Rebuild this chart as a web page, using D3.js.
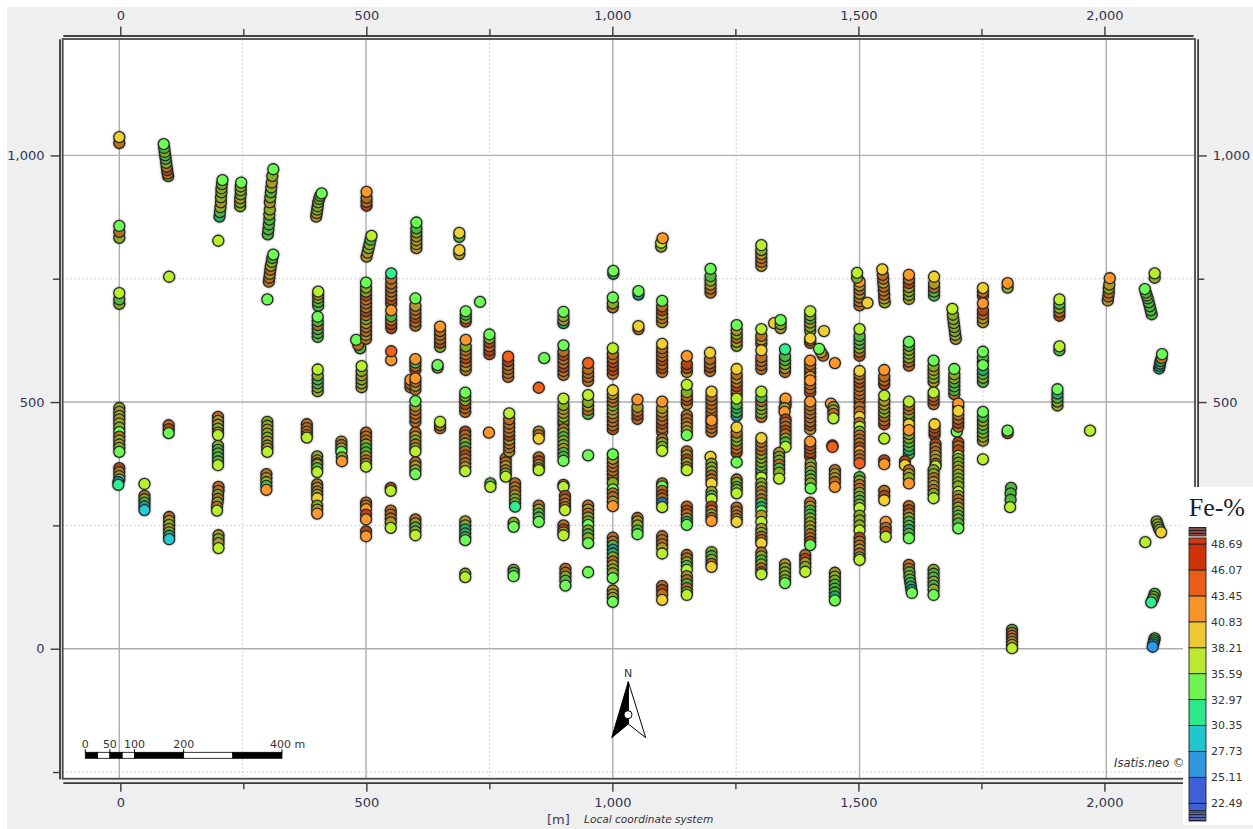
<!DOCTYPE html>
<html>
<head>
<meta charset="utf-8">
<title>Fe-% drill samples</title>
<script src="https://cdn.jsdelivr.net/npm/d3@7/dist/d3.min.js"></script>
<style>
  body { margin: 0; background: #fff; }
  svg { display: block; }
  .axis text { font-family: "DejaVu Sans", sans-serif; font-size: 13px; fill: #2f3550; }
  .axis path, .axis line { stroke: #3a3a3a; stroke-width: 1.4; }
  .note { font-family: "DejaVu Sans", sans-serif; fill: #333; }
</style>
</head>
<body>
<div class="chart"></div>
<script>
// DATA ------------------------------------
// each hole: [x (or one x per sample), sample elevations, sample Fe-%]
// listed in drawing order, so the last sample of a hole ends up on top
const holesWest = [
  [0, [1025,1037], [42,39.5]],
  [0, [833,845,857], [37,42,34]],
  [0, [699,708,721], [37,34,36.5]],
  [0, [488,480,472,465,457,448,439], [38,40,37,39,38,37,34]],
  [0, [430,422,414,407,399], [42,38,40,37,34]],
  [0, [366,358,350,343], [44,41,39,31]],
  [-2, [338,332], [30,31.5]],
  [[99,98,97,96,95,94,93,92,91,90], [958,963,970,977,985,993,1000,1007,1015,1023], [38,42,44,41,37,34,35,37,34,34]],
  [101, [754], [36.5]],
  [51, [334], [36.5]],
  [51, [310,303,296,289,281], [41,38,35,30,28.5]],
  [100, [453,445,437], [42,44,34]],
  [101, [267,259,251,243,236,229,222], [41,39,38,40,37,32,28.8]],
  [200, [470,462,454,446,438,433], [42,40,39,38,40,37]],
  [200, [411,403,396,388,380,372], [37,33,35,33,34,37]],
  [[201,201,200,200,199,198,198], [328,320,312,304,296,288,280], [41,43,38,41,37,42,37]],
  [201, [230,222,214,204], [39,37,40,36.5]],
  [[203,204,205,206,206,207,207,208,209], [876,885,895,905,915,925,933,942,950], [31,34,38,39,37,38,37,36,34]],
  [200.6, [827], [36.5]],
  [[245,245,245,246,246,246,247], [897,905,913,921,929,937,945], [37,38,39,37,38,36,34]],
  [[301,302,303,304,304,305,305,306,307,308,309,310,312], [840,850,860,870,880,890,905,915,925,935,945,958,972], [34,33,34,35,37,38,39,36,34,37,39,37,34]],
  [[303,304,305,306,307,309,310,312], [744,752,760,768,776,784,792,799], [42,41,39,42,40,37,34,34]],
  [300, [708], [34]],
  [[399,400,401,402,403,405,407,410], [876,883,890,897,905,912,918,923], [40,40,38,38,37,36,33,34]],
  [403, [695,703,711,718,724], [33,34,38,39,37]],
  [402, [632,640,648,656,664,673], [34,33,35,42,33,34]],
  [402, [522,530,538,546,554,566], [38,37,34,35,37,37]],
  [300, [460,452,444,436,428,420,412,406,399], [37,38,40,37,36,39,38,40,36.5]],
  [298, [354,346,338,330,322], [42,40,38,34,42]],
  [380, [455,447,440,433,428], [43,41,42,42,37]],
  [401, [390,382,376], [37,40,42]],
  [401, [373,366,358], [38,35,37]],
  [401, [333,326,319,312,305], [43,39,41,38,39.5]],
  [401, [290,282,274], [38,40,42]],
  [450, [420,413,406,399], [39,41,37,34]],
  [451, [388,380], [38,42]],
  [500, [438,430,422,414,406,398,390,382,375,369], [43,42,41,38,33,34,40,43,39,37]],
  [500, [296,290,283], [43,42,42]],
  [500, [272,262], [44,42]],
  [500, [238,228], [44,42]],
  [550, [326,320], [44,37]],
  [550, [280,272,264,256,245], [43,42,41,39,37]],
  [600, [438,430,422,414,406,400], [42,40,38,41,38,37]],
  [600, [378,370,362,354], [42,40,38,34]],
  [600, [262,254,246,238,230], [41,39,34,37,37]],
  [600, [655,663,671,679,687,695,710], [42,43,44,42,41,39,34]],
  [600, [565,573,580,587], [44,42,33,42]],
  [590, [530,537,545], [41,42,42]],
  [600, [525,533,541,548], [42,40,42,42]],
  [600, [460,468,476,484,492,502], [42,43,42,42,40,34]],
  [602, [812,820,828,836,844,852,864], [39,40,39,40,37,34,34]],
  [650, [447,453,460], [42,41,37]],
  [650, [612,620,628,636,644,653], [38,44,41,42,43,42]],
  [645, [570,575], [37,34]],
  [702, [663,670,677,684], [44,37,33,34]],
  [702, [565,573,581,589,597,605,613,626], [41,39,42,44,43,41,38,42]],
  [701, [480,488,496,504,512,519], [42,41,44,38,37,34]],
  [701, [440,432,424,416,408,400,392,384,376,368,360], [44,42,41,37,35,42,44,43,42,40,37]],
  [701, [258,250,242,234,226,220], [40,38,31,32,33,34]],
  [701, [152,145], [38,37]],
  [689, [835,843], [34,39.5]],
  [689, [800,808], [40,39.5]],
  [731, [703], [34]],
  [750, [597,605,613,621,629,637], [44,45,42,44,38,34]],
  [[501,503,505,507,509,511], [795,803,812,820,829,837], [40,39,38,37,35,36.5]],
  [[488,484,480], [609,616,626], [34,42,34]],
  [491, [530,538,546,554,563,573], [39.5,37,38,39,37,36.5]],
  [500, [628,636,644,652,660,668,676,684,692,700,708,716,724,732,742], [42,39.5,41,42,39.5,38,42,44,43,41,42,44,38,37,34]],
  [551, [700,708,716,724,732,740,750,761], [42,44,43,42,43,41,41,31.5]],
  [551, [650,658,666,674,686], [44,45,42,34,42]],
  [551, [585], [42]],
  [551, [603], [44.8]],
  [501, [898,906,914,926], [44,42,43,42]]
];

const holesCentre = [
  [788, [551,559,567,575,583,592], [42,43,41,42,44,44.7]],
  [861, [589], [34]],
  [850, [529], [44.8]],
  [900, [660,666,674,683], [31,39,36,34]],
  [900, [555,563,571,579,587,595,603,615], [42,43,45,43,41,44,42,34]],
  [900, [455,462,470,478,486,494,507], [40,38,36,39,40,38,36.5]],
  [900, [445,437,429,421,413,405,397,389,381], [42,37,35,38,36,39,34,33,34]],
  [900, [332,328], [42,37]],
  [903, [310,302,294,287,281], [44,42,43,42,37]],
  [900, [250,242,236,230], [42,44,39,37]],
  [904, [162,154,146,138,128], [41,42,37,34,34]],
  [850, [440,433,426], [39,42,39.5]],
  [850, [388,380,372,366,362], [42,44,40,39,37]],
  [850, [290,282,274,266,257], [42,38,34,33,34]],
  [799, [255,247], [38,34]],
  [799, [160,154,147], [37,33,34]],
  [802, [335,327,319,311,303,295,288], [43,42,41,39,38,36,31.5]],
  [783, [386,378,370,362,355,349], [43,42,39,42,38,37]],
  [790, [400,408,416,424,432,440,448,456,465,477], [39.5,42,43,39.5,44,42,43,42,42,36.5]],
  [749, [438], [42]],
  [752, [335,328], [33,37]],
  [950, [543,551,559,567,579], [42,41,43,42,44.8]],
  [950, [476,484,492,500,514], [34,42,40,38,36.5]],
  [950, [392], [34]],
  [950, [290,282,274,266,258,251], [43,40,41,38,37,33]],
  [950, [240,232,224,214], [37,33,38,34]],
  [950, [155], [34]],
  [1001, [760,766], [31,34]],
  [1000, [692,700,712], [42,38,34]],
  [1000, [557,565,573,581,589,597,609], [42,44,46,44,42,41,36.5]],
  [1000, [445,453,461,469,477,485,493,501,509,516,524], [44,42,41,43,40,39,38,42,41,39,39.5]],
  [1000, [345,353,361,369,377,385,394], [44,42,43,41,42,40,34]],
  [1000, [336,323], [38,34]],
  [1000, [315,307,298,289], [41,43,40,42]],
  [1000, [225,217,209,201,193,185,177,169,161,153,143], [41,42,34,29,31,36,42,40,38,36,34]],
  [1000, [118,110,103,95], [39.5,40,36,34]],
  [1052, [718,725], [29,34]],
  [1052, [648,654], [42,39.5]],
  [1050, [466,474,482,490,505], [42,44,41,39,42]],
  [1050, [265,258,250,240,232], [42,39,36,34,34]],
  [1098, [815,823], [37,38]],
  [1101, [832], [42]],
  [1100, [662,670,678,686,694,705], [39,42,40,44,42,34]],
  [1100, [561,569,577,585,593,601,609,618], [42,44,43,44,42,41,43,39.5]],
  [1100, [440,448,456,464,472,480,488,501], [42,41,44,43,41,39,39,42]],
  [1100, [425,417,409,401], [43,37,38,36.5]],
  [1100, [335,329], [42,34]],
  [1100, [320,312,304,296,287], [43,44,42,26,37]],
  [1100, [228,220,212,204,193], [42,43,41,39,37]],
  [1100, [127,119,110,99], [42,44,41,39.5]],
  [1150, [561,569,577,593], [40,44,45,42]],
  [1150, [496,504,512,520,535], [39,44,42,38,37]],
  [1150, [473,465,457,449,441,433], [42,43,41,40,39,34]],
  [1150, [400,392,384,376,368,362], [42,40,44,37,41,37]],
  [1150, [288,280,272,264,257,251], [42,44,43,39,31,34]],
  [1150, [190,183,175,168,160], [41,42,38,33,37]],
  [1150, [147,139,131,123,115,109], [40,43,34,42,38,37]],
  [1198, [722,730,738,746,755,770], [42,41,39,38,35,34]],
  [1197, [563,571,579,587,600], [43,44,42,41,39.5]],
  [1200, [440,448,456,464,472,480,488,496,504,512,521], [42,41,43,44,42,41,43,42,41,43,39.5]],
  [1200, [463], [42]],
  [1198, [389], [39.5]],
  [1200, [375,367,359,351,343,335], [38,37,36,42,41,39.5]],
  [1200, [318,310,303], [38,34,36.5]],
  [1200, [288,280,272,265,259], [44,42,38,42,42]],
  [1200, [196,188,180,172,166], [36,34,37,41,39.5]],
  [1251, [614,622,630,638,646,656], [38,39,42,37,39,34]],
  [1251, [516,524,532,540,548,556,567], [36,42,44,42,40,43,39.5]],
  [1251, [472,480,488,496,507], [29,33,32,34,36.5]],
  [1251, [398,406,414,422,430,438,449], [44,42,43,38,36,41,39.5]],
  [1251, [378], [33]],
  [1251, [343,336,328,322,315], [42,38,34,37,37]],
  [1251, [286,278,270,263,257], [43,41,42,40,39.5]],
  [1301, [776,784,792,800,808,818], [39,43,42,39,38,36.5]],
  [1301, [618,626,634,648], [42,39,41,37]],
  [1301, [567,575,583,591,605], [41,42,41,43,39.5]],
  [1301, [470,478,486,494,502,510,521], [41,38,36,38,41,34,36.5]],
  [1301, [355,363,371,379,387,395,403,411,419,427], [34,33,35,37,37,38,41,43,42,39.5]],
  [1301, [347], [36.5]],
  [1301, [335,327,319,311,303,295,287,279], [37,38,42,39,41,35,31,34]],
  [1301, [270,257], [40,36.5]],
  [1301, [243,235,227,220,214], [40,38,41,42,39.5]],
  [1301, [195,187,179,171,163,155,151], [42,38,34,36,42,40,37]]
];

const holesEast = [
  [1327, [660], [39.5]],
  [1340, [650,658,666], [39,37,34]],
  [1349, [561,569,577,585,593,607], [42,39,37,34,33,31.5]],
  [1350, [493,499,507], [42,43,42]],
  [1348, [488,480], [40,42]],
  [1350, [465,458,450,442,434,426,418,409], [44,42,43,45,41,38,34,36.5]],
  [1337, [397,389,381,373,365,357,345], [39,37,36,43,34,38,36.5]],
  [1349, [171,163,155,147,139,133], [39,38,37,36,36,34]],
  [1390, [190,182,174,166,156], [42,44,40,37,36.5]],
  [1400, [645,653,661,669,676,684], [38,37,39,34,37,36.5]],
  [1400, [620,625,629], [41,42,39.5]],
  [1428, [644], [39.5]],
  [[1426,1422,1418], [594,601,608], [42,39,34]],
  [1400, [560,568,576,584], [43,42,41,42]],
  [1400, [551], [42]],
  [1400, [520,528,536,544], [44,42,41,43]],
  [1400, [445,453,461,469,477,485,493,501], [40,44,42,41,43,42,41,42]],
  [1400, [390,398,406,412,420], [44,45,43,44,42]],
  [1401, [375,367,359,351,343,335,325], [37,39,36,34,38,37,34]],
  [1400, [296,288,280,272,264,256,248,240,232,224,217,210], [43,40,33,34,37,38,39,36,43,42,44,34]],
  [1450, [579], [42]],
  [1442, [497], [42]],
  [1447, [490,483,476,467], [38,39,42,36.5]],
  [1445, [412,409], [45,44.8]],
  [1450, [362,354,346,338,328], [43,40,39,41,42]],
  [1450, [154,146,138,130,122,114,106,98], [40,37,36,34,35,33,32,34]],
  [1500, [696,704,712,720,728,736,744], [43,42,41,40,42,40,42]],
  [1495, [752,762], [37,36.5]],
  [1516, [701], [39.5]],
  [1500, [594,602,610,618,626,634,648], [44,42,38,35,33,34,37]],
  [1500, [500,508,516,524,532,540,548,556,563], [44,43,41,43,42,44,42,41,39.5]],
  [1500, [490,480,470], [41,43,39.5]],
  [1500, [458,450], [41,36.5]],
  [1500, [440,432,424,416,408,400], [38,41,42,43,44,42]],
  [1500, [392,384,376], [41,42,44.8]],
  [1500, [348,340,332,324,316,308,300,292,285], [34,38,43,41,36,38,34,37,36.5]],
  [1500, [270,260,250,240], [38,36,37,36.5]],
  [1500, [225,217,209,201,193,185,180], [44,43,42,39,41,38,36.5]],
  [[1551,1550,1550,1549,1549,1548,1548,1547,1546], [702,710,718,726,734,742,750,758,769], [38,40,42,41,43,40,42,41,39.5]],
  [1550, [536,544,552,565], [44,42,41,42]],
  [1550, [455,463,471,479,487,495,503,513], [44,43,42,38,36,39,40,36.5]],
  [1550, [426], [36.5]],
  [1550, [382,374], [45,42]],
  [1550, [320,310,301], [42,44,39.5]],
  [1553, [257], [42]],
  [1553, [245,237,227], [43,44,36.5]],
  [1600, [709,717,725,733,741,749,758], [39,37,38,40,44,42,42]],
  [1600, [574,582,590,598,606,614,622], [41,42,38,37,38,35,34]],
  [1600, [445,453,461,469,477,485,493,501], [44,42,39,34,38,41,43,36.5]],
  [1600, [455], [39.5]],
  [1600, [395,403,411,419,427,435,443], [33,31,34,35,37,38,42]],
  [1592, [380,372], [44,39.5]],
  [1600, [362,354,346,335], [41,39,38,42]],
  [1600, [289,281,273,265,257,249,241,233,224], [42,44,41,37,33,34,32,33,34]],
  [[1600,1600,1601,1601,1602,1603,1604,1605,1606], [170,162,155,147,140,133,126,119,113], [43,41,34,36,34,33,31,30,34]],
  [1651, [716,724,732,740,754], [33,35,42,40,39.5]],
  [1650, [541,549,557,565,573,584], [39,38,37,39,37,34]],
  [1650, [496,504,512,519], [43,45,42,36.5]],
  [1652, [433,440,448,455], [46,44,45,39.5]],
  [1654, [415,407,399,391,383,375,370], [44,42,43,40,39,41,36.5]],
  [1650, [362,354,346,338,330,322,314,305], [37,38,42,39,40,43,38,36.5]],
  [1650, [160,152,144,136,128,120,109], [36,34,33,38,34,37,34]],
  [[1695,1694,1693,1692,1691,1690,1689,1688], [628,636,644,652,660,668,677,689], [39,37,38,36,37,36,38,36.5]],
  [1692, [516,524,532,540,548,556,567], [42,34,35,33,36,37,34]],
  [1697, [440], [34]],
  [1700, [490,497], [41,42]],
  [1700, [450,458,466,474,482], [43,44,42,41,39.5]],
  [1700, [418,410,402,391], [44,43,44,36.5]],
  [1700, [385,377,369,361,353,345,337,329,318], [38,36,37,39,36,37,38,37,36.5]],
  [1700, [310,302,294,286,278,270,262,254,244], [40,42,41,38,37,35,36,33,34]],
  [1750, [715,723,731], [44,42,39.5]],
  [1750, [662,670,678,686,700], [39,40,42,44,42]],
  [1750, [582,590,602], [33,34,34]],
  [1750, [541,549,557,565,575], [33,38,33,32,34]],
  [1750, [422,430,438,446,454,462,470,480], [40,38,36,33,38,36,34,34]],
  [1750, [384], [36.5]],
  [1800, [732,741], [38,42]],
  [1800, [437,442], [44,34]],
  [1905, [675,683,691,699,708], [44,42,38,34,36.5]],
  [1905, [605,613], [34,36.5]],
  [1901, [493,501,509,517,526], [38,37,33,31,34]],
  [1967, [442], [36.5]],
  [[2003,2004,2005,2005,2006,2007], [706,714,722,730,738,751], [40,42,41,38,39,42]],
  [[2092,2090,2088,2086,2084,2082,2080,2078], [678,686,694,702,710,716,722,729], [34,33,34,35,34,36,34,34]],
  [2098, [752,761], [37,36.5]],
  [[2107,2108,2109,2110,2112,2113], [568,573,578,583,589,597], [31,30,31,32,42,34]],
  [[2102,2104,2106,2108,2111], [258,252,246,241,236], [36,37,38,37,39.5]],
  [2079, [216], [36.5]],
  [[2098,2096,2094,2091], [111,105,100,94], [34,38,34,31.5]],
  [[2098,2097,2096,2095,2094], [21,17,13,9,4], [34,33,31,29,26.4]],
  [1809, [38,32,26,20,14,8,1], [34,42,42,41,40,39,36.5]],
  [[1807,1806,1806,1805], [326,315,302,287], [33,33,34,36.5]]
];

const xMajor = [0, 500, 1000, 1500, 2000];
const xMinor = [250, 750, 1250, 1750];
const yMajor = [0, 500, 1000];
const yMinor = [-250, 250, 750];
// the legend panel covers the lower part of the right axis
const yMajorRight = [500, 1000];
const yMinorRight = [750];

const legendCuts = [22.49, 25.11, 27.73, 30.35, 32.97, 35.59, 38.21, 40.83, 43.45, 46.07, 48.69];
const legendColors = ["#3f5fd6", "#3f60d8", "#3296e0", "#22c6cc", "#2de88a", "#70f550", "#bce832", "#ecc832", "#f59428", "#ea5f18", "#cf3208", "#cf3a12"];
const markColors = ["#3f5fd6", "#3f60d8", "#2f98ea", "#22ccd2", "#2cf090", "#6cfd55", "#b9f02c", "#f0d030", "#ff9828", "#f2601a", "#d63408", "#d63408"];
const legendOver = [49.75, 50.05, 50.35];
const legendUnder = [21.7, 21.35, 21.05, 20.75];

const scaleMarks = [0, 25, 50, 75, 100, 200, 300, 400];
const scaleLabels = [0, 50, 100, 200];

// CHART INIT ------------------------------
let width = 1253, height = 829;
let plot = { left: 62.7, right: 1195, top: 39, bottom: 778.7 };

let svg = d3
  .select(".chart")
  .append("svg")
  .attr("width", width)
  .attr("height", height);

svg.append("rect").attr("x", 7).attr("y", 7).attr("width", width - 7).attr("height", height - 7).attr("fill", "#efefef");
svg.append("rect")
  .attr("x", plot.left).attr("y", plot.top)
  .attr("width", plot.right - plot.left).attr("height", plot.bottom - plot.top)
  .attr("fill", "#fff");

// marks and grid share this scale, the tick marks sit on a very slightly narrower one
let x = d3.scaleLinear().domain([-114.7, 2179.7]).range([plot.left, plot.right]);
let y = d3.scaleLinear().domain([-263.5, 1236]).range([plot.bottom, plot.top]);
let xTicks = d3.scaleLinear().domain([-116.5, 2180]).range([63, 1193]);

// grid
let grid = svg.append("g");
grid.selectAll(".gx").data(xMinor).enter().append("line")
  .attr("x1", d => x(d)).attr("x2", d => x(d)).attr("y1", plot.top).attr("y2", plot.bottom)
  .attr("stroke", "#c4c4c4").attr("stroke-dasharray", "1.5 2.5");
grid.selectAll(".gy").data(yMinor).enter().append("line")
  .attr("x1", plot.left).attr("x2", plot.right).attr("y1", d => y(d)).attr("y2", d => y(d))
  .attr("stroke", "#c4c4c4").attr("stroke-dasharray", "1.5 2.5");
grid.selectAll(".gX").data(xMajor).enter().append("line")
  .attr("x1", d => x(d)).attr("x2", d => x(d)).attr("y1", plot.top).attr("y2", plot.bottom)
  .attr("stroke", "#aeaeae").attr("stroke-width", 1.4);
grid.selectAll(".gY").data(yMajor).enter().append("line")
  .attr("x1", plot.left).attr("x2", plot.right).attr("y1", d => y(d)).attr("y2", d => y(d))
  .attr("stroke", "#aeaeae").attr("stroke-width", 1.4);

svg.append("rect")
  .attr("x", plot.left).attr("y", plot.top)
  .attr("width", plot.right - plot.left).attr("height", plot.bottom - plot.top)
  .attr("fill", "none").attr("stroke", "#4a4a4a").attr("stroke-width", 1.8);

// axes, major ticks carry labels, minor ones are shorter and bare
let comma = d3.format(",");
function drawAxis(axisFn, scale, translate, major, minor, pad) {
  svg.append("g").attr("class", "axis").attr("transform", translate)
    .call(axisFn(scale).tickValues(major).tickFormat(comma).tickSizeInner(9).tickSizeOuter(0).tickPadding(pad));
  svg.append("g").attr("class", "axis").attr("transform", translate)
    .call(axisFn(scale).tickValues(minor).tickFormat("").tickSizeInner(6.5).tickSizeOuter(0));
}
drawAxis(d3.axisTop, xTicks, "translate(0,35.5)", xMajor, xMinor, 7);
drawAxis(d3.axisBottom, xTicks, "translate(0,782.7)", xMajor, xMinor, 6);
drawAxis(d3.axisLeft, y, "translate(59.5,0)", yMajor, yMinor, 6);
drawAxis(d3.axisRight, y, "translate(1197.7,0)", yMajorRight, yMinorRight, 6);

// sample circles
let fe = d3.scaleThreshold().domain(legendCuts).range(markColors);
let samples = [];
holesWest.concat(holesCentre, holesEast).forEach(hole => {
  hole[1].forEach((elev, i) => {
    samples.push({
      x: Array.isArray(hole[0]) ? hole[0][i] : hole[0],
      y: elev,
      fe: hole[2][i],
      cap: i == hole[1].length - 1 // only the last one shows its full colour
    });
  });
});

svg.append("g")
  .style("filter", "blur(0.4px) drop-shadow(0 0 1px rgba(0,0,0,0.45))")
  .selectAll("circle")
  .data(samples)
  .enter()
  .append("circle")
  .attr("cx", d => x(d.x))
  .attr("cy", d => y(d.y))
  .attr("r", 5.5)
  .attr("fill", d => d.cap ? fe(d.fe) : d3.color(fe(d.fe)).darker(0.9))
  .attr("stroke", "#262626")
  .attr("stroke-width", 1.3);

// scale bar
let bar = d3.scaleLinear().domain([0, 400]).range([85.3, 282]);
let barY = 752.3;
svg.selectAll(".seg")
  .data(d3.pairs(scaleMarks))
  .enter()
  .append("rect")
  .attr("x", d => bar(d[0]))
  .attr("y", barY)
  .attr("width", d => bar(d[1]) - bar(d[0]))
  .attr("height", 6)
  .attr("fill", (d, i) => i % 2 ? "#fff" : "#000")
  .attr("stroke", "#000")
  .attr("stroke-width", 0.8);
svg.selectAll(".barTick")
  .data(scaleLabels.concat([400]))
  .enter()
  .append("line")
  .attr("x1", d => bar(d)).attr("x2", d => bar(d))
  .attr("y1", barY - 3).attr("y2", barY)
  .attr("stroke", "#000");
svg.selectAll(".barLabel")
  .data(scaleLabels)
  .enter()
  .append("text")
  .attr("class", "note")
  .attr("x", d => bar(d))
  .attr("y", 747.5)
  .attr("text-anchor", "middle")
  .style("font-size", "11px")
  .text(d => d);
svg.append("text").attr("class", "note").attr("x", 270).attr("y", 747.5).style("font-size", "11px").text("400 m");

// north arrow
svg.append("text").attr("class", "note").attr("x", 628).attr("y", 677)
  .attr("text-anchor", "middle").style("font-size", "11px").text("N");
svg.append("path").attr("d", "M628.3,681.7L645.7,737.7L628.3,724Z").attr("fill", "#fff").attr("stroke", "#000").attr("stroke-width", 1);
svg.append("path").attr("d", "M628.3,681.7L611.7,737.7L628.3,724Z").attr("fill", "#000").attr("stroke", "#000").attr("stroke-width", 1);
svg.append("circle").attr("cx", 628).attr("cy", 714.7).attr("r", 4).attr("fill", "#fff").attr("stroke", "#000");

// footer text
svg.append("text").attr("class", "note").attr("x", 547).attr("y", 824).style("font-size", "13px").style("fill", "#3a3f58").text("[m]");
svg.append("text").attr("class", "note").attr("x", 584).attr("y", 823)
  .style("font-size", "10.6px").style("font-style", "italic").text("Local coordinate system");
svg.append("text").attr("class", "note").attr("x", 1114).attr("y", 766.5)
  .style("font-size", "11.5px").style("font-style", "italic").text("Isatis.neo ©");

// LEGEND ----------------------------------
svg.append("rect").attr("x", 1183).attr("y", 487).attr("width", 70).attr("height", 338).attr("fill", "#fff");
svg.append("text").attr("x", 1188.7).attr("y", 515.7)
  .style("font-family", '"Liberation Serif", serif').style("font-size", "26px").style("fill", "#222")
  .text("Fe-%");

let legendY = d3.scaleLinear().domain([22.49, 48.69]).range([803.3, 544]);
let legendEdges = [21.75].concat(legendCuts, [49.3]);
let lx = 1189, lw = 17;

svg.selectAll(".legendBox")
  .data(d3.pairs(legendEdges))
  .enter()
  .append("rect")
  .attr("x", lx)
  .attr("y", d => legendY(d[1]))
  .attr("width", lw)
  .attr("height", d => legendY(d[0]) - legendY(d[1]))
  .attr("fill", (d, i) => legendColors[i])
  .attr("stroke", "#222")
  .attr("stroke-width", 0.9);

svg.append("rect").attr("x", lx).attr("y", 527.5).attr("width", lw).attr("height", 8.5)
  .attr("fill", "#8a4a44").attr("stroke", "#222").attr("stroke-width", 0.8);
svg.selectAll(".over").data(legendOver).enter().append("line")
  .attr("x1", lx).attr("x2", lx + lw).attr("y1", d => legendY(d)).attr("y2", d => legendY(d))
  .attr("stroke", "#222");
svg.append("rect").attr("x", lx).attr("y", 812).attr("width", lw).attr("height", 9)
  .attr("fill", "#5468b8").attr("stroke", "#222").attr("stroke-width", 0.8);
svg.selectAll(".under").data(legendUnder).enter().append("line")
  .attr("x1", lx).attr("x2", lx + lw).attr("y1", d => legendY(d)).attr("y2", d => legendY(d))
  .attr("stroke", "#222");

svg.selectAll(".legendLabel")
  .data(legendCuts)
  .enter()
  .append("text")
  .attr("class", "note")
  .attr("x", 1211)
  .attr("y", d => legendY(d))
  .attr("dy", "0.36em")
  .style("font-size", "11px")
  .text(d => d3.format(".2f")(d));
</script>
</body>
</html>
